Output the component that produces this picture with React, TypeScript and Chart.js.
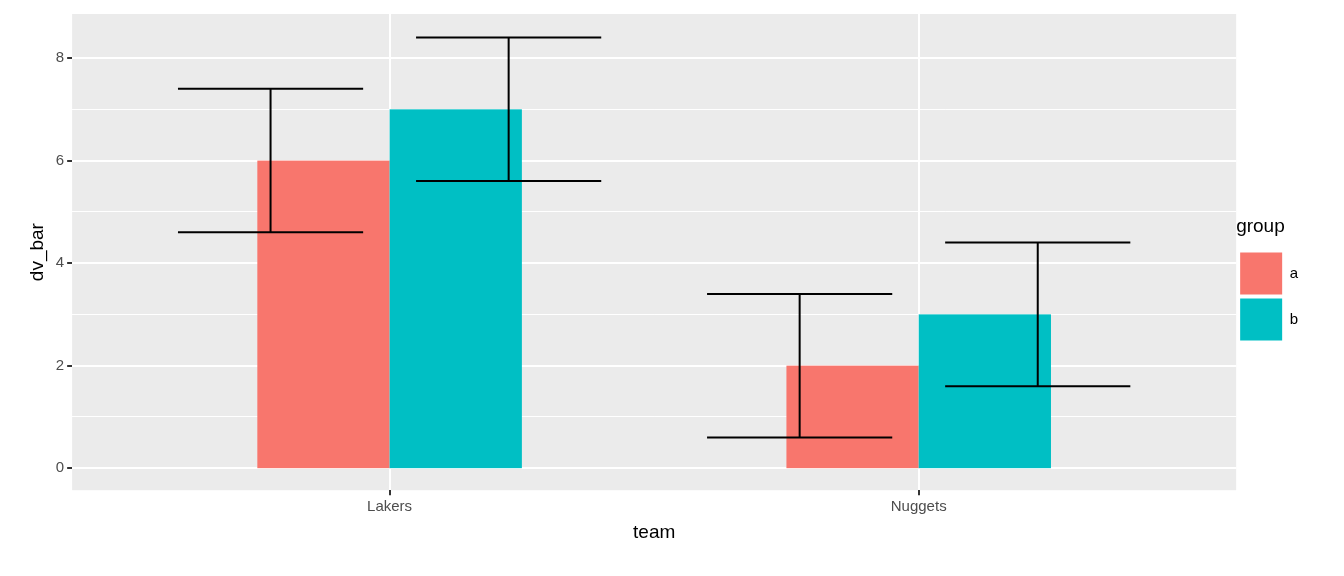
import React, { useEffect, useRef } from "react";
import { Chart, registerables } from "chart.js";

Chart.register(...registerables);

const teams = ["Lakers", "Nuggets"];
const groups = ["a", "b"];
const colors = ["#F8766D", "#00BFC4"];
const dvBar = [
  [6, 2],
  [7, 3]
];
const errLow = [
  [4.6, 0.6],
  [5.6, 1.6]
];
const errHigh = [
  [7.4, 3.4],
  [8.4, 4.4]
];
// ggplot dodge offsets (in x units)
const barOffset = [-0.125, 0.125];
const barHalf = 0.125;
const errOffset = [-0.225, 0.225];
const errHalf = 0.175;

const panelBg = {
  id: "panelBg",
  beforeDraw(chart: any) {
    const { ctx, chartArea: a } = chart;
    ctx.save();
    ctx.fillStyle = "#EBEBEB";
    ctx.fillRect(a.left, a.top, a.right - a.left, a.bottom - a.top);
    ctx.restore();
  }
};

const barsAndErrors = {
  id: "barsAndErrors",
  afterDatasetsDraw(chart: any) {
    const { ctx, scales } = chart;
    const x = scales.x;
    const y = scales.y;
    ctx.save();
    groups.forEach((_, g) => {
      teams.forEach((_, t) => {
        const c = t + 1 + barOffset[g];
        const x0 = x.getPixelForValue(c - barHalf);
        const x1 = x.getPixelForValue(c + barHalf);
        const y0 = y.getPixelForValue(0);
        const y1 = y.getPixelForValue(dvBar[g][t]);
        ctx.fillStyle = colors[g];
        ctx.fillRect(x0, y1, x1 - x0, y0 - y1);
      });
    });
    ctx.strokeStyle = "#000";
    ctx.lineWidth = 2;
    groups.forEach((_, g) => {
      teams.forEach((_, t) => {
        const c = t + 1 + errOffset[g];
        const x0 = x.getPixelForValue(c - errHalf);
        const x1 = x.getPixelForValue(c + errHalf);
        const xm = x.getPixelForValue(c);
        const lo = y.getPixelForValue(errLow[g][t]);
        const hi = y.getPixelForValue(errHigh[g][t]);
        ctx.beginPath();
        ctx.moveTo(x0, lo);
        ctx.lineTo(x1, lo);
        ctx.moveTo(x0, hi);
        ctx.lineTo(x1, hi);
        ctx.moveTo(xm, lo);
        ctx.lineTo(xm, hi);
        ctx.stroke();
      });
    });
    ctx.restore();
  }
};

const App: React.FC = () => {
  const chartRef = useRef<HTMLCanvasElement>(null);
  const chartInstance = useRef<Chart>();

  useEffect(() => {
    document.body.style.margin = "0";
    if (!chartRef.current) return;
    const ctx = chartRef.current.getContext("2d");
    if (!ctx) return;
    if (chartInstance.current) chartInstance.current.destroy();
    chartInstance.current = new Chart(ctx, {
      type: "scatter",
      data: {
        datasets: groups.map((g, i) => ({
          label: g,
          data: [],
          backgroundColor: colors[i],
          borderWidth: 0
        }))
      },
      options: {
        animation: false,
        responsive: true,
        maintainAspectRatio: false,
        layout: { padding: { top: 14, right: 36, bottom: 28, left: 22 } },
        plugins: {
          tooltip: { enabled: false },
          legend: {
            position: "right",
            align: "center",
            title: {
              display: true,
              text: "group",
              color: "#000",
              position: "start",
              font: { family: "Liberation Sans", size: 19 },
              padding: { top: 0, bottom: 8 }
            },
            labels: {
              boxWidth: 42,
              boxHeight: 42,
              color: "#000",
              padding: 4,
              font: { family: "Liberation Sans", size: 15 }
            }
          }
        },
        scales: {
          x: {
            type: "linear",
            min: 0.4,
            max: 2.6,
            afterBuildTicks: (s: any) => {
              s.ticks = teams.map((_, i) => ({ value: i + 1 }));
            },
            ticks: {
              color: "#4D4D4D",
              font: { family: "Liberation Sans", size: 15 },
              callback: (v: any) => teams[Number(v) - 1] ?? ""
            },
            grid: { color: "#FFFFFF", lineWidth: 2, tickColor: "#333", tickLength: 5 },
            border: { display: false },
            title: {
              display: true,
              text: "team",
              color: "#000",
              font: { family: "Liberation Sans", size: 19 },
              padding: { top: 2 }
            }
          },
          y: {
            min: -0.43,
            max: 8.86,
            afterBuildTicks: (s: any) => {
              s.ticks = [0, 1, 2, 3, 4, 5, 6, 7, 8].map((v) => ({ value: v }));
            },
            ticks: {
              color: "#4D4D4D",
              font: { family: "Liberation Sans", size: 15 },
              callback: (v: any) => (Number(v) % 2 === 0 ? String(v) : "")
            },
            grid: {
              color: "#FFFFFF",
              lineWidth: (c: any) => (c.tick && c.tick.value % 2 === 0 ? 2 : 1),
              tickColor: (c: any) => (c.tick && c.tick.value % 2 === 0 ? "#333" : "rgba(0,0,0,0)"),
              tickLength: 5
            },
            border: { display: false },
            title: {
              display: true,
              text: "dv_bar",
              color: "#000",
              font: { family: "Liberation Sans", size: 19 }
            }
          }
        }
      },
      plugins: [panelBg, barsAndErrors]
    });
    return () => {
      if (chartInstance.current) chartInstance.current.destroy();
    };
  }, []);

  return (
    <div style={{ width: 1344, height: 576 }}>
      <canvas ref={chartRef} style={{ width: "100%", height: "100%" }} />
    </div>
  );
};

export default App;
